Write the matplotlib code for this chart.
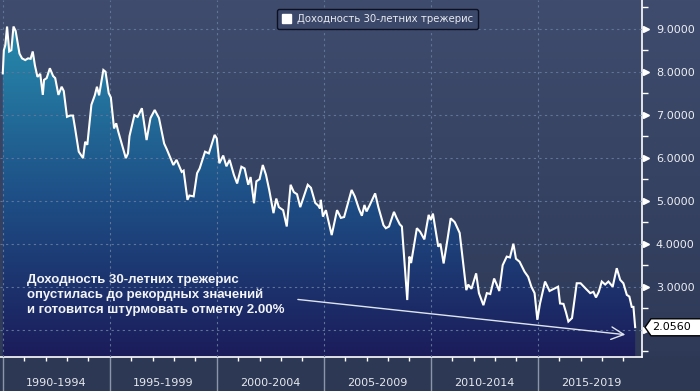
import numpy as np
import matplotlib
matplotlib.use('Agg')
import matplotlib.pyplot as plt
import matplotlib.transforms as mtransforms
from matplotlib.colors import LinearSegmentedColormap
from matplotlib.patches import Polygon, Rectangle

# 30y treasury yield (decimal year, %)
years = [1990.00, 1990.05, 1990.12, 1990.20, 1990.30, 1990.40, 1990.50, 1990.60, 1990.78, 1990.90,
         1991.05, 1991.18, 1991.30, 1991.40, 1991.50, 1991.62, 1991.75, 1991.87, 1991.93, 1992.05,
         1992.20, 1992.35, 1992.45, 1992.60, 1992.75, 1992.85, 1993.00, 1993.15, 1993.28, 1993.38,
         1993.55, 1993.75, 1993.85, 1993.95, 1994.14, 1994.30, 1994.40, 1994.50, 1994.70, 1994.80,
         1994.95, 1995.05, 1995.20, 1995.30, 1995.40, 1995.75, 1995.85, 1995.92, 1996.15, 1996.30,
         1996.50, 1996.62, 1996.72, 1996.90, 1997.10, 1997.30, 1997.54, 1997.66, 1997.97, 1998.12,
         1998.36, 1998.45, 1998.63, 1998.72, 1998.92, 1999.08, 1999.20, 1999.45, 1999.63, 1999.90,
         2000.00, 2000.12, 2000.30, 2000.45, 2000.60, 2000.80, 2000.95, 2001.15, 2001.30, 2001.47,
         2001.58, 2001.74, 2001.85, 2002.00, 2002.15, 2002.30, 2002.45, 2002.65, 2002.78, 2002.90,
         2003.10, 2003.27, 2003.45, 2003.60, 2003.75, 2003.90, 2004.25, 2004.40, 2004.60, 2004.75,
         2004.82, 2004.86, 2004.96, 2005.10, 2005.37, 2005.50, 2005.62, 2005.80, 2005.95, 2006.30,
         2006.45, 2006.65, 2006.78, 2006.90, 2007.00, 2007.15, 2007.40, 2007.55, 2007.79, 2007.90,
         2008.05, 2008.28, 2008.40, 2008.55, 2008.65, 2008.90, 2009.00, 2009.08, 2009.35, 2009.50,
         2009.70, 2009.90, 2010.00, 2010.10, 2010.35, 2010.45, 2010.60, 2010.78, 2010.93, 2011.12,
         2011.35, 2011.66, 2011.75, 2011.90, 2012.12, 2012.25, 2012.46, 2012.62, 2012.78, 2012.96,
         2013.08, 2013.20, 2013.36, 2013.55, 2013.70, 2013.86, 2013.98, 2014.15, 2014.38, 2014.55,
         2014.70, 2014.85, 2014.98, 2015.10, 2015.34, 2015.55, 2015.75, 2015.95, 2016.04, 2016.20,
         2016.32, 2016.43, 2016.60, 2016.82, 2017.00, 2017.25, 2017.45, 2017.60, 2017.72, 2017.85,
         2017.99, 2018.15, 2018.30, 2018.50, 2018.69, 2018.85, 2019.00, 2019.16, 2019.28, 2019.39,
         2019.47, 2019.55]
yields = [7.96, 8.50, 8.62, 9.05, 8.47, 8.50, 9.05, 8.95, 8.42, 8.31,
          8.27, 8.31, 8.30, 8.47, 8.15, 7.88, 7.95, 7.46, 7.81, 7.85,
          8.08, 7.90, 7.85, 7.46, 7.65, 7.55, 6.95, 6.98, 6.98, 6.68,
          6.14, 5.99, 6.37, 6.30, 7.23, 7.45, 7.65, 7.45, 8.04, 8.00,
          7.50, 7.40, 6.68, 6.80, 6.60, 5.99, 6.10, 6.50, 6.99, 6.95,
          7.15, 6.75, 6.41, 6.92, 7.11, 6.92, 6.33, 6.20, 5.83, 5.95,
          5.67, 5.70, 5.02, 5.12, 5.10, 5.64, 5.75, 6.14, 6.10, 6.53,
          6.45, 5.87, 6.05, 5.80, 5.95, 5.60, 5.40, 5.79, 5.75, 5.37,
          5.55, 4.94, 5.45, 5.50, 5.83, 5.60, 5.25, 4.71, 5.05, 4.85,
          4.78, 4.40, 5.37, 5.20, 5.15, 4.85, 5.37, 5.30, 4.95, 4.88,
          4.82, 5.02, 4.63, 4.78, 4.20, 4.50, 4.78, 4.60, 4.62, 5.25,
          5.10, 4.80, 4.65, 4.90, 4.75, 4.90, 5.17, 4.85, 4.43, 4.36,
          4.40, 4.74, 4.60, 4.45, 4.40, 2.69, 3.70, 3.55, 4.36, 4.28,
          4.10, 4.67, 4.55, 4.70, 3.93, 4.00, 3.54, 4.10, 4.59, 4.50,
          4.25, 2.92, 3.05, 2.95, 3.31, 2.85, 2.57, 2.85, 2.83, 3.19,
          3.05, 2.90, 3.50, 3.70, 3.68, 4.00, 3.65, 3.58, 3.35, 3.23,
          3.00, 2.85, 2.23, 2.60, 3.12, 2.90, 2.95, 3.00, 2.61, 2.60,
          2.40, 2.19, 2.27, 3.08, 3.08, 2.95, 2.85, 2.88, 2.75, 2.88,
          3.12, 3.05, 3.12, 3.00, 3.43, 3.16, 3.08, 2.81, 2.77, 2.53,
          2.53, 2.06]

periods = ['1990-1994', '1995-1999', '2000-2004', '2005-2009', '2010-2014', '2015-2019']
period_starts = [1990, 1995, 2000, 2005, 2010, 2015]
y_ticks = [2, 3, 4, 5, 6, 7, 8, 9]
legend_label = 'Доходность 30-летних трежерис'
note = ('Доходность 30-летних трежерис\n'
        'опустилась до рекордных значений\n'
        'и готовится штурмовать отметку 2.00%')
last_value = 2.0560

W, H = 700, 391
xlo, xhi = 1989.87, 2019.87
ylo, yhi = 1.365, 9.667

fig = plt.figure(figsize=(W / 100, H / 100), dpi=100)

# background gradient + bottom band
bg = fig.add_axes([0, 0, 1, 1], zorder=0)
bg.axis('off')
bg_cmap = LinearSegmentedColormap.from_list('bg', ['#2d3856', '#3f4c6d'])
bg.imshow(np.linspace(0, 1, 256).reshape(-1, 1), aspect='auto', cmap=bg_cmap,
          origin='lower', extent=[0, 1, 0, 1])
bg.add_patch(Rectangle((0, 0), 1, 34 / H, color='#2c3854'))
bg.set_xlim(0, 1)
bg.set_ylim(0, 1)

ax = fig.add_axes([0, 34 / H, 642 / W, 357 / H], zorder=1)
ax.patch.set_alpha(0)
ax.set_xlim(xlo, xhi)
ax.set_ylim(ylo, yhi)

# area with vertical gradient
poly = Polygon(list(zip(years, yields)) + [(years[-1], ylo), (years[0], ylo)],
               closed=True, fc='none', ec='none')
ax.add_patch(poly)
fill_cmap = LinearSegmentedColormap.from_list(
    'fill', [(0, '#1b1c5a'), (0.45, '#1e4f86'), (1, '#2894b3')])
im = ax.imshow(np.linspace(0, 1, 256).reshape(-1, 1), aspect='auto', cmap=fill_cmap,
               origin='lower', extent=[xlo, xhi, ylo, yhi], zorder=2)
im.set_clip_path(poly)
ax.plot(years, yields, color='white', lw=1.5, zorder=4, solid_joinstyle='miter')

# grid
for x in period_starts:
    ax.axvline(x, color='#5f7598', lw=0.8, ls=(0, (2, 3)), zorder=3)
for y in y_ticks:
    ax.axhline(y, color='#5f7598', lw=0.8, ls=(0, (2, 3)), zorder=3)

for s in ['top', 'left']:
    ax.spines[s].set_visible(False)
for s in ['bottom', 'right']:
    ax.spines[s].set_color('white')
    ax.spines[s].set_linewidth(1.2)

# x axis: yearly minor ticks, separators, period labels
ax.set_xticks(period_starts)
ax.set_xticklabels([])
ax.set_xticks(np.arange(1991, 2020), minor=True)
ax.tick_params(axis='x', which='major', length=24.5, width=1, color='#8d95a8')
ax.tick_params(axis='x', which='minor', length=3, width=1, color='white')
xtrans = mtransforms.blended_transform_factory(ax.transData, ax.transAxes)
for start, lab in zip(period_starts, periods):
    ax.text(start + 2.5, -0.074, lab, transform=xtrans,
            ha='center', va='center', fontsize=8, color='#e6e8ee')

# y axis on the right (2.0000 is hidden under the last-value flag)
ax.yaxis.tick_right()
ax.set_yticks(y_ticks)
ax.set_yticklabels(['' if v == 2 else '%.4f' % v for v in y_ticks])
ax.set_yticks(np.arange(1.5, 9.6, 1.0), minor=True)
ax.tick_params(axis='y', which='major', length=0, pad=10, labelsize=8, labelcolor='#eceef2')
ax.tick_params(axis='y', which='minor', length=4, width=1, color='white')
ytrans = mtransforms.blended_transform_factory(ax.transAxes, ax.transData)
ax.plot([1 + 4 / 642] * len(y_ticks), y_ticks, transform=ytrans, ls='none', marker='>',
        ms=4.5, color='white', clip_on=False, zorder=5)

# last value flag
px, py = ax.transData.transform((xhi, last_value))
inv = fig.transFigure.inverted()
pts = [(px + 3, py), (px + 9, py + 8.5), (W + 2, py + 8.5), (W + 2, py - 8.5), (px + 9, py - 8.5)]
flag = Polygon([inv.transform(p) for p in pts], closed=True, fc='white', ec='black', lw=1,
               transform=fig.transFigure, zorder=6)
fig.patches.append(flag)
fig.text((px + 10) / W, py / H, '%.4f' % last_value, ha='left', va='center',
         fontsize=8, color='black', zorder=7)

# legend
h = Rectangle((0, 0), 1, 1, fc='white', ec='white')
leg = ax.legend([h], [legend_label], loc='upper center', bbox_to_anchor=(377.5 / 642, 1 - 4 / 357),
                fontsize=7.3, frameon=True, fancybox=True, handlelength=0.9, handleheight=0.9,
                handletextpad=0.6, borderpad=0.5, labelcolor='#e8eaf0')
leg.get_frame().set_facecolor('#3b486a')
leg.get_frame().set_edgecolor('#0c1020')
leg.get_frame().set_linewidth(1)
leg.get_frame().set_alpha(1)
leg.set_zorder(8)

# note + arrow
fig.text(27 / W, 1 - 274 / H, note, ha='left', va='top', fontsize=9.5, fontweight='bold',
         family='Liberation Sans', color='#f2f4f8', linespacing=1.3)
ax.annotate('', xy=(2019.22, 1.877), xytext=(2003.66, 2.71),
            arrowprops=dict(arrowstyle='->,head_length=0.9,head_width=0.45', color='#dfe5ef', lw=1),
            zorder=6)

fig.savefig('out.png', dpi=100)
